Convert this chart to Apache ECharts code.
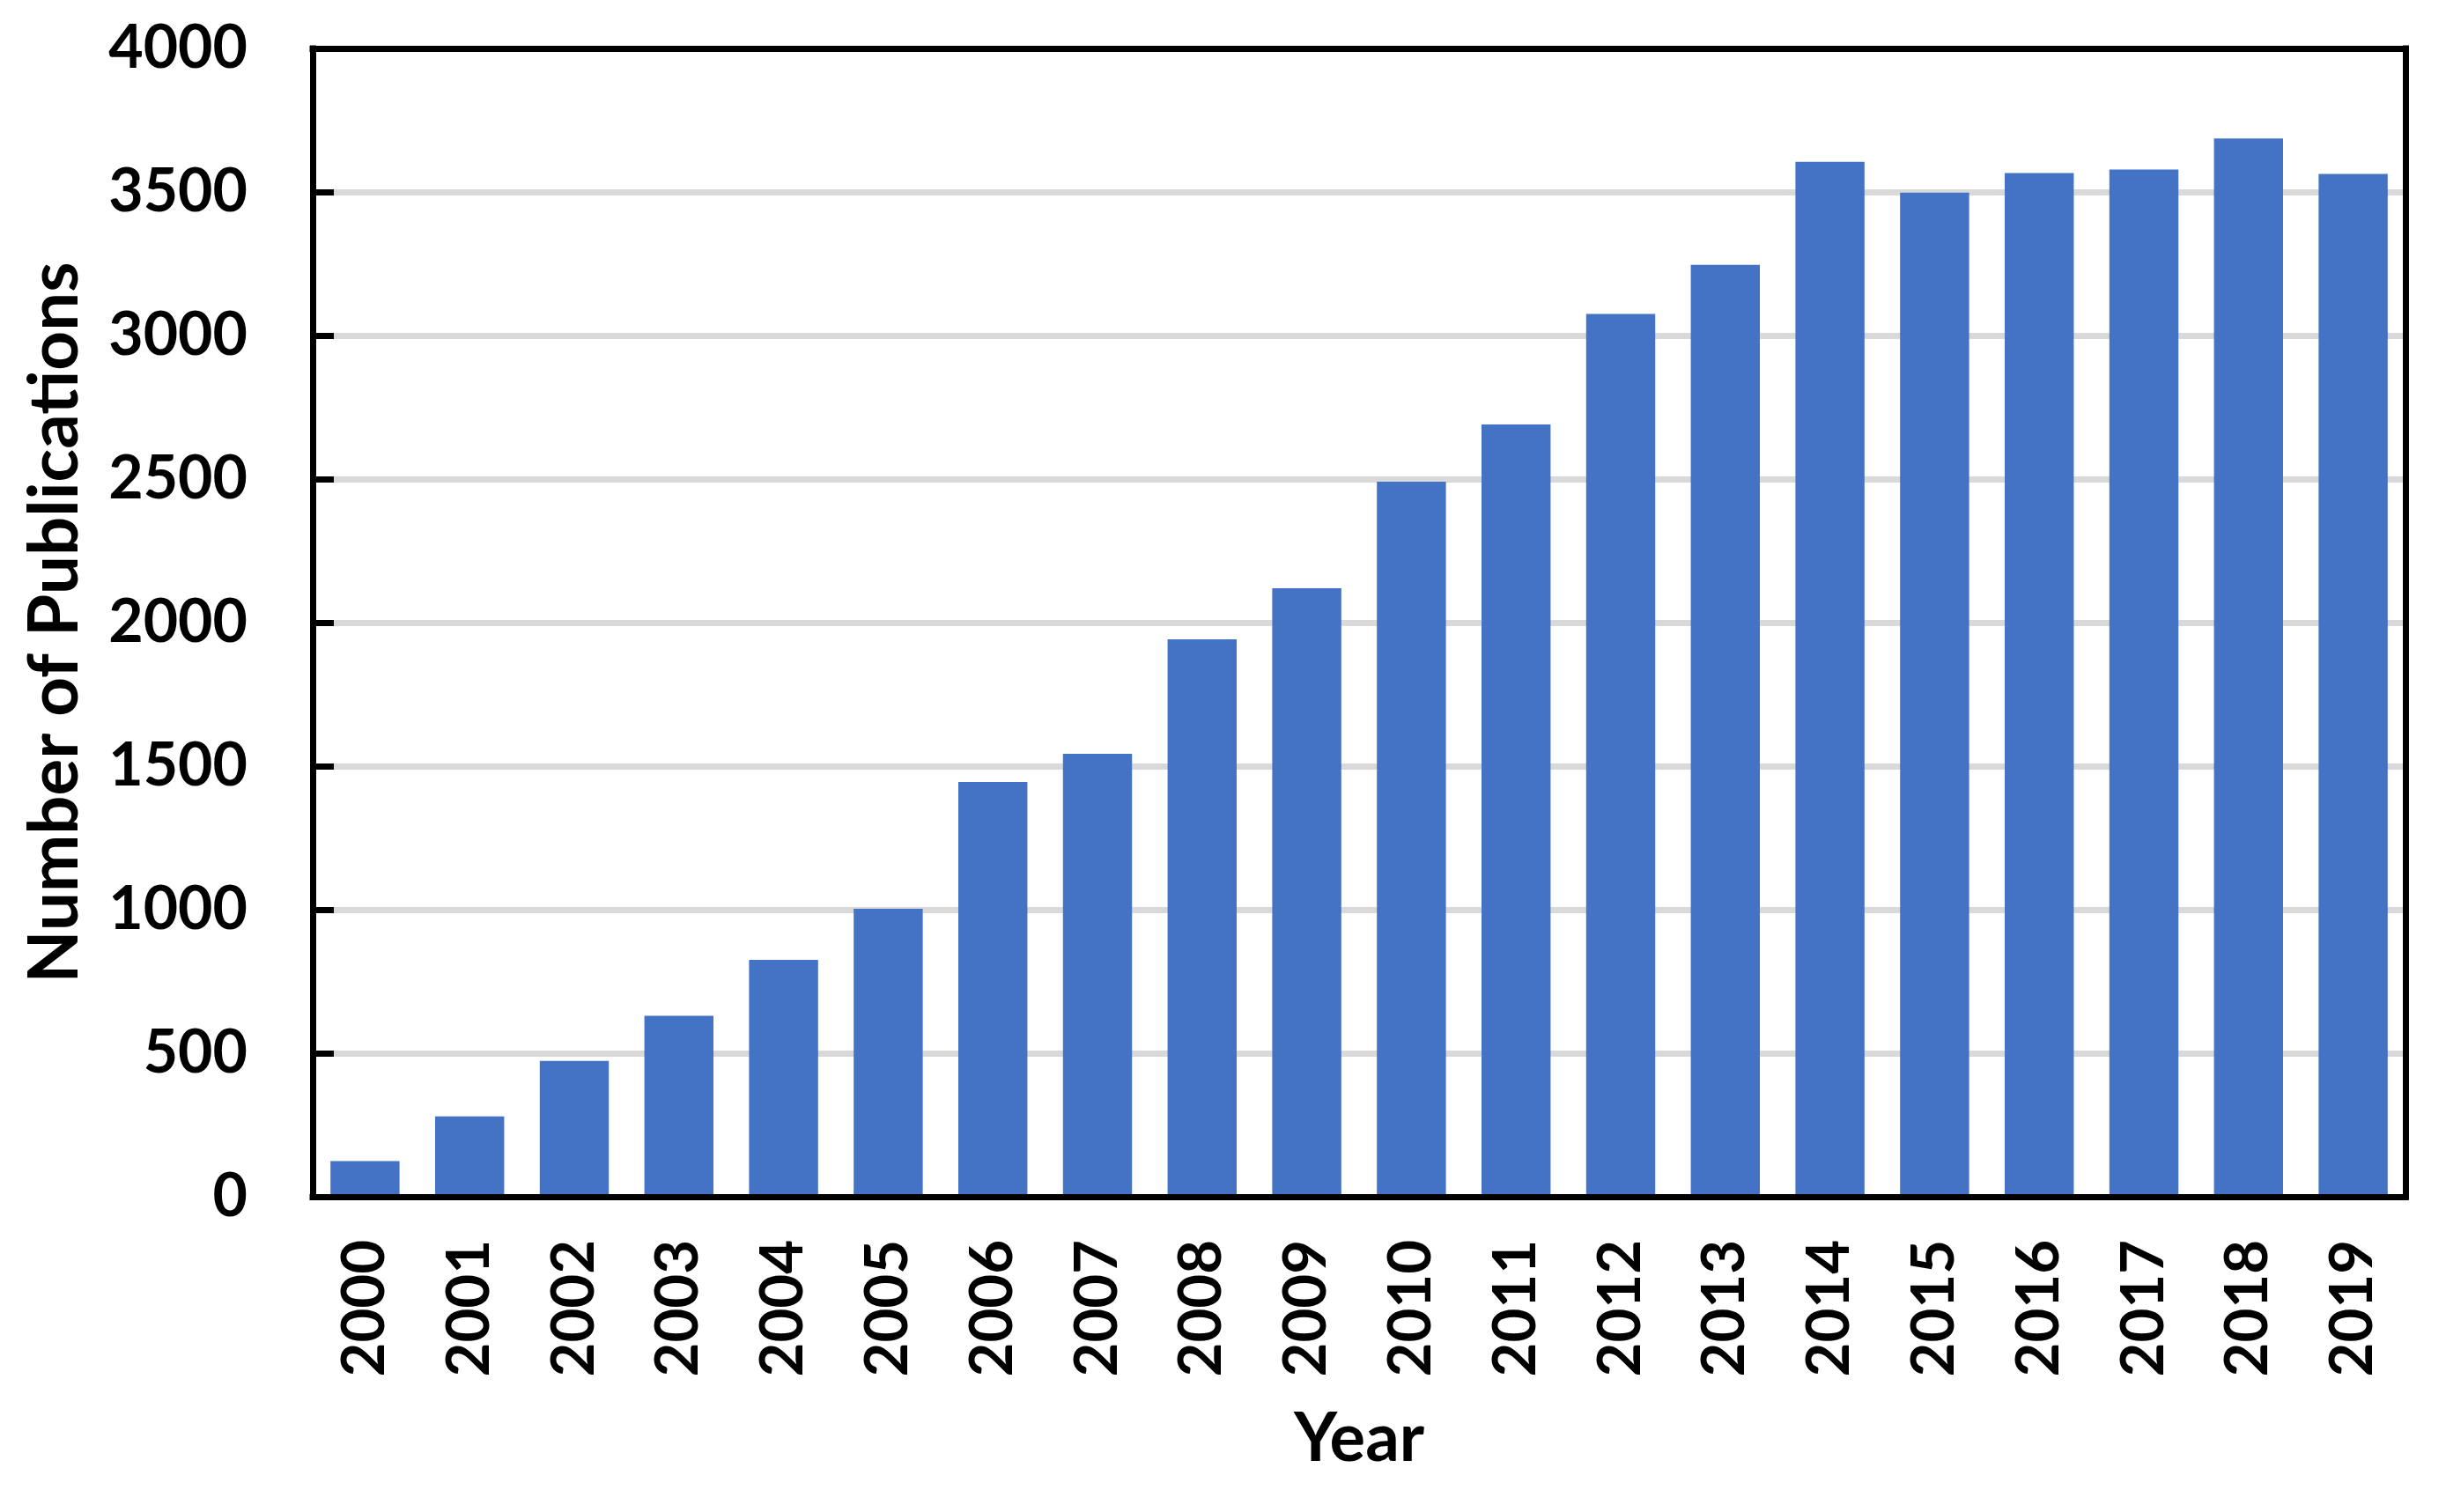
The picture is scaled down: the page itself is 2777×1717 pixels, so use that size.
<!DOCTYPE html>
<html>
<head>
<meta charset="utf-8">
<script src="https://cdn.jsdelivr.net/npm/echarts@6/dist/echarts.min.js"></script>
<style>
html,body{margin:0;padding:0;background:#fff;}
#chart{width:2777px;height:1717px;}
</style>
</head>
<body>
<div id="chart"></div>
<script>
const years = ['2000','2001','2002','2003','2004','2005','2006','2007','2008','2009',
               '2010','2011','2012','2013','2014','2015','2016','2017','2018','2019'];
const publications = [124, 280, 473, 630, 825, 1003, 1445, 1543, 1942, 2120,
                      2491, 2690, 3075, 3246, 3605, 3498, 3566, 3578, 3686, 3563];
const yMin = 0, yMax = 4000, yStep = 500;
const xTitle = 'Year';
const yTitle = 'Number of Publications';

const FONT = 'Lato';
const black = '#000000';
const gray = '#d9d9d9';
const lineW = 7;

const chart = echarts.init(document.getElementById('chart'), null, {renderer: 'canvas'});
chart.setOption({
  backgroundColor: '#ffffff',
  animation: false,
  grid: {left: 355, right: 46, top: 55, bottom: 358, containLabel: false},
  xAxis: [
    {
      type: 'category', data: years, position: 'bottom', z: 6,
      axisLine: {show: true, onZero: false, lineStyle: {color: black, width: lineW, cap: 'square'}},
      axisTick: {show: false},
      axisLabel: {rotate: 90, margin: 49, color: black, fontFamily: FONT, fontWeight: 'bold', fontSize: 67},
      name: xTitle, nameLocation: 'middle', nameGap: 237,
      nameTextStyle: {color: black, fontFamily: FONT, fontWeight: 'bold', fontSize: 76}
    },
    {
      type: 'category', data: years, position: 'top', z: 6,
      axisLine: {show: true, onZero: false, lineStyle: {color: black, width: lineW, cap: 'square'}},
      axisTick: {show: false}, axisLabel: {show: false}
    }
  ],
  yAxis: [
    {
      type: 'value', min: yMin, max: yMax, interval: yStep, position: 'left', z: 1,
      axisLine: {show: false}, axisTick: {show: false}, axisLabel: {show: false},
      splitLine: {show: true, lineStyle: {color: [black, gray, gray, gray, gray, gray, gray, gray, black], width: lineW}}
    },
    {
      type: 'value', min: yMin, max: yMax, interval: yStep, position: 'left', z: 6,
      axisLine: {show: true, onZero: false, lineStyle: {color: black, width: lineW, cap: 'square'}},
      axisTick: {show: true, inside: true, length: 24, lineStyle: {color: black, width: lineW}},
      axisLabel: {margin: 74, color: black, fontFamily: FONT, fontWeight: 'bold', fontSize: 68,
                  formatter: function (v) { return String(v); }},
      splitLine: {show: false},
      name: yTitle, nameLocation: 'middle', nameGap: 253,
      nameTextStyle: {color: black, fontFamily: FONT, fontWeight: 'bold', fontSize: 78}
    },
    {
      type: 'value', min: yMin, max: yMax, interval: yStep, position: 'right', z: 6,
      axisLine: {show: true, onZero: false, lineStyle: {color: black, width: lineW, cap: 'square'}},
      axisTick: {show: false}, axisLabel: {show: false}, splitLine: {show: false}
    }
  ],
  series: [{
    type: 'bar',
    xAxisIndex: 0,
    yAxisIndex: 0,
    data: publications,
    barCategoryGap: '34%',
    itemStyle: {color: '#4472C4'},
    z: 3
  }]
});
</script>
</body>
</html>
